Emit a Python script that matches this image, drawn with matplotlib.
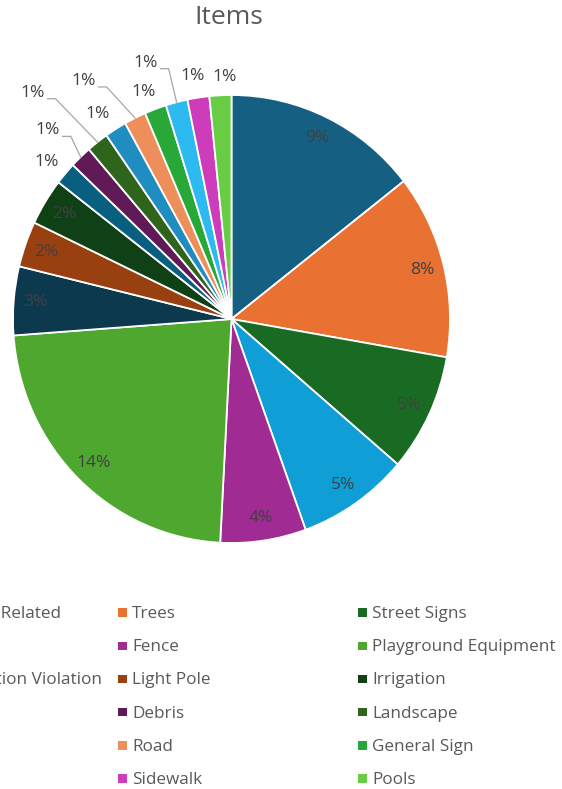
import numpy as np
import matplotlib.pyplot as plt
from matplotlib.patches import Rectangle

plt.rcParams['font.family'] = ['Open Sans', 'DejaVu Sans']

# slice names, clockwise from 12 o'clock (first legend column is cut off in the source)
categories = ["Maintenance Related", "Trees", "Street Signs",
              "Graffiti", "Fence", "Playground Equipment",
              "Noise Regulation Violation", "Light Pole", "Irrigation",
              "Drainage", "Debris", "Landscape",
              "Benches", "Road", "General Sign",
              "Parking", "Sidewalk", "Pools"]
# values in percent
shares = [8.67, 7.97, 5.10,
          4.95, 3.80, 13.80,
          2.97, 1.98, 2.02,
          0.97, 0.97, 0.97,
          0.97, 0.97, 0.97,
          0.97, 0.97, 0.97]
colors = ["#156082", "#E97132", "#196B24",
          "#0F9ED5", "#A02B93", "#4EA72E",
          "#0D394E", "#994011", "#0F4016",
          "#095F80", "#601A58", "#2F641C",
          "#1F8DC0", "#ED8E5B", "#27A838",
          "#2CBAF0", "#CD3DBB", "#68CC45"]

# outside labels for the small slices: distance from centre, angle shift, leader line
out_dist = [1.10, 1.19, 1.36, 1.10, 1.26, 1.09, 1.21, 1.10, 1.08]
out_shift = [0.8, 1.3, 4.2, 1.7, 6.3, 1.4, 4.4, 0.6, -1.3]
out_leader = [False, True, True, False, True, False, True, False, False]

W, H = 562, 789
fig = plt.figure(figsize=(W / 100, H / 100), dpi=100)

# pie geometry in pixels
cx, cy, rx, ry, k = 231.5, 319, 218.5, 224, 1.5
ax = fig.add_axes([(cx - rx * k) / W, (H - cy - ry * k) / H, 2 * rx * k / W, 2 * ry * k / H])

total = sum(shares)


def inside_label(pct):
    v = pct * total / 100
    return f"{v:.0f}%" if v >= 1.5 else ""


wedges, texts, autotexts = ax.pie(shares, colors=colors, startangle=90, counterclock=False,
                                  autopct=inside_label, pctdistance=0.9,
                                  wedgeprops=dict(edgecolor='white', linewidth=1.3),
                                  textprops=dict(color='#404040', fontsize=12.5))
ax.set_aspect('auto')
ax.set_xlim(-k, k)
ax.set_ylim(-k, k)
ax.axis('off')

small = [i for i, v in enumerate(shares) if v < 1.5]
for j, i in enumerate(small):
    w = wedges[i]
    mid = np.deg2rad((w.theta1 + w.theta2) / 2)
    ang = mid + np.deg2rad(out_shift[j])
    lx, ly = out_dist[j] * np.cos(ang), out_dist[j] * np.sin(ang)
    ax.text(lx, ly, f"{shares[i]:.0f}%", ha='center', va='center', fontsize=12.5, color='#404040')
    if out_leader[j]:
        x0 = lx + 15 / rx
        y0 = ly - 6 / ry
        ax.plot([x0, x0 + 8 / rx, np.cos(mid)], [y0, y0, np.sin(mid)],
                color='#A6A6A6', lw=0.9, clip_on=False, solid_joinstyle='miter')

fig.text(229 / W, 1 - 18 / H, "Items", ha='center', va='center', fontsize=19, color='#595959')

# legend, 3 columns, row-major, first column runs off the left edge
for i, (name, col) in enumerate(zip(categories, colors)):
    row, c = divmod(i, 3)
    mx = -121.7 + 240 * c
    yc = 612.5 + 33.2 * row
    fig.add_artist(Rectangle((mx / W, 1 - (yc + 4.2) / H), 8.3 / W, 8.3 / H,
                             transform=fig.transFigure, facecolor=col, edgecolor='none'))
    fig.text((mx + 14) / W, 1 - (yc + 5.5) / H, name, ha='left', va='baseline',
             fontsize=12.3, color='#595959')

fig.savefig("out.png", dpi=100)
